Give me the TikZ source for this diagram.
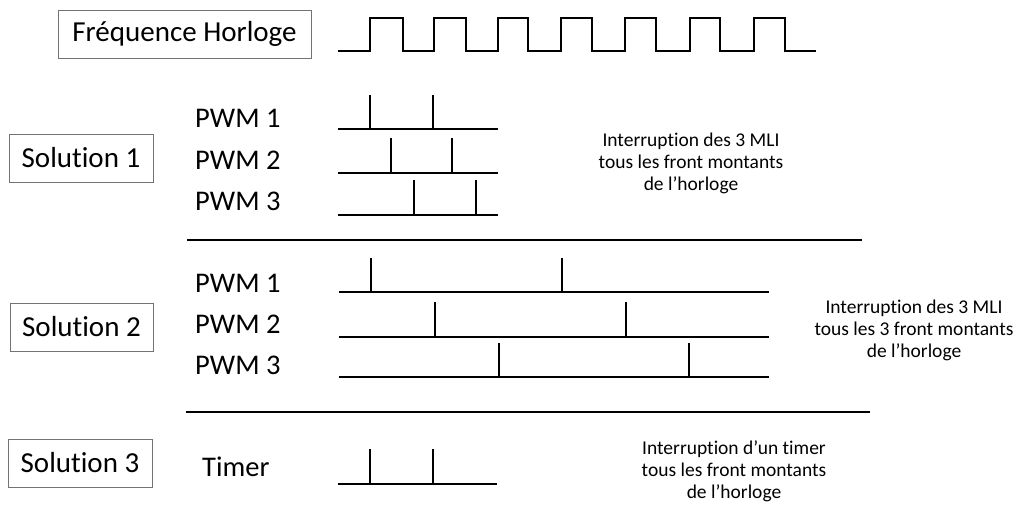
\documentclass[tikz,border=0pt]{standalone}
\usepackage{fontspec}
\setmainfont{Carlito}[RawFeature={-liga;-clig;-calt;-dlig;-rlig}]
\begin{document}
\begin{tikzpicture}[x=1pt,y=-1pt,
  box/.style={draw=black!55,line width=0.9pt,minimum width=#1,minimum height=48pt,inner sep=0pt,font=\fontsize{29}{32}\selectfont},
  lbl/.style={anchor=base west,inner sep=0pt,font=\fontsize{28.5}{32}\selectfont},
  note/.style={align=center,inner sep=0pt,font=\fontsize{19.5}{22}\selectfont},
  wave/.style={line width=2pt,line cap=butt,line join=miter}]
\useasboundingbox (0,0) rectangle (1016,518);
% boxes
\node[box=253pt] (freq) at (184.5,34) {Fréquence Horloge};
\node[box=144pt] (sol1) at (81,158) {Solution 1};
\node[box=143pt] (sol2) at (81.5,327) {Solution 2};
\node[box=144pt] (sol3) at (80,463) {Solution 3};
% clock
\draw[wave] (338,51) -- (370,51) -- (370,18) -- (403,18) -- (403,51)
  -- (434,51) -- (434,18) -- (466,18) -- (466,51)
  -- (498,51) -- (498,18) -- (528,18) -- (528,51)
  -- (561,51) -- (561,18) -- (592,18) -- (592,51)
  -- (625,51) -- (625,18) -- (656,18) -- (656,51)
  -- (690,51) -- (690,18) -- (720,18) -- (720,51)
  -- (754,51) -- (754,18) -- (785,18) -- (785,51) -- (816,51);
% solution 1
\node[lbl] (s1p1) at (195,128) {PWM 1};
\node[lbl] (s1p2) at (195,170) {PWM 2};
\node[lbl] (s1p3) at (195,211) {PWM 3};
\draw[wave] (338,129) -- (498,129) (370,129) -- (370,95) (433,129) -- (433,95);
\draw[wave] (338,173) -- (498,173) (391,173) -- (391,138) (452,173) -- (452,138);
\draw[wave] (338,215) -- (498,215) (414,215) -- (414,180) (476,215) -- (476,180);
\node[note] (n1) at (691,163) {Interruption des 3 MLI\\tous les front montants\\de l’horloge};
\draw[wave] (187,240) -- (862,240);
% solution 2
\node[lbl] (s2p1) at (195,292) {PWM 1};
\node[lbl] (s2p2) at (195,333) {PWM 2};
\node[lbl] (s2p3) at (195,374) {PWM 3};
\draw[wave] (339,292) -- (769,292) (371,292) -- (371,258) (562,292) -- (562,258);
\draw[wave] (339,337) -- (769,337) (435,337) -- (435,302) (626,337) -- (626,302);
\draw[wave] (339,377) -- (769,377) (499,377) -- (499,343) (689,377) -- (689,343);
\node[note] (n2) at (914,330) {Interruption des 3 MLI\\tous les 3 front montants\\de l’horloge};
\draw[wave] (186,412) -- (870,412);
% solution 3
\node[lbl] (tim) at (202,476) {Timer};
\draw[wave] (338,484) -- (497,484) (370,484) -- (370,449) (433,484) -- (433,449);
\node[note] (n3) at (734,471) {Interruption d’un timer\\tous les front montants\\de l’horloge};
\end{tikzpicture}
\end{document}
